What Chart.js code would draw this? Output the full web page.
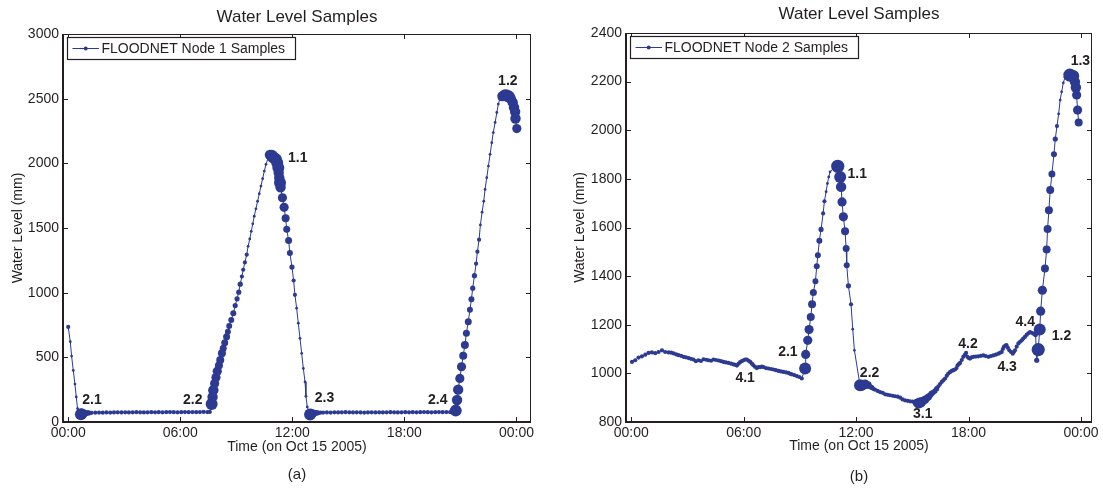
<!DOCTYPE html>
<html>
<head>
<meta charset="utf-8">
<script src="https://cdn.jsdelivr.net/npm/chart.js@4.4.1/dist/chart.umd.min.js"></script>
<style>
  body { margin: 0; background: #fff; }
  canvas { position: absolute; top: 0; }
</style>
</head>
<body>
<canvas id="chartA" width="550" height="489" style="left:0"></canvas>
<canvas id="chartB" width="550" height="489" style="left:553px"></canvas>
<script>
// ---- data (hours after midnight, water level in mm, sample weight 0..9) ----
const tickHours = [0, 6, 12, 18, 24];
const tickLabels = ['00:00', '06:00', '12:00', '18:00', '00:00'];

const node1Hours = [
  0.00, 0.11, 0.18, 0.27, 0.36, 0.43, 0.50,
  0.68, 0.74, 0.80, 0.88, 0.98, 1.10, 1.25,
  1.45, 1.65, 1.85, 2.05, 2.25, 2.45, 2.65, 2.85, 3.05, 3.25, 3.45, 3.65, 3.85, 4.05, 4.25, 4.45,
  4.65, 4.85, 5.05, 5.25, 5.45, 5.65, 5.85, 6.05, 6.25, 6.45, 6.65, 6.85, 7.05, 7.25, 7.45, 7.58,
  7.68, 7.73, 7.77, 7.84, 7.91, 7.98, 8.07, 8.14, 8.23, 8.30, 8.38, 8.48, 8.55, 8.62, 8.73, 8.84,
  8.94, 9.04, 9.13, 9.21, 9.30, 9.37, 9.46, 9.56, 9.63, 9.72, 9.80, 9.88, 9.96, 10.05, 10.14, 10.23,
  10.32, 10.41, 10.50, 10.59, 10.71,
  10.80, 10.90, 10.98, 11.12, 11.19, 11.25, 11.27, 11.30, 11.34, 11.37, 11.47, 11.56, 11.64, 11.70,
  11.80, 11.87, 11.98, 12.07, 12.14, 12.23, 12.32, 12.41, 12.50, 12.59, 12.68, 12.73, 12.80,
  12.95, 13.00, 13.06, 13.14, 13.24, 13.36, 13.50,
  13.65, 13.85, 14.05, 14.25, 14.45, 14.65, 14.85, 15.05, 15.25, 15.45, 15.65, 15.85, 16.05, 16.25,
  16.45, 16.65, 16.85, 17.05, 17.25, 17.45, 17.65, 17.85, 18.05, 18.25, 18.45, 18.65, 18.85, 19.05,
  19.25, 19.45, 19.65, 19.85, 20.05, 20.25, 20.45, 20.62,
  20.75, 20.82, 20.88, 20.97, 21.06, 21.15, 21.24, 21.32, 21.42, 21.51, 21.59, 21.66, 21.75, 21.84,
  21.91, 22.00, 22.07, 22.16, 22.25, 22.32, 22.41, 22.50, 22.59, 22.68, 22.76, 22.86, 22.95, 23.03, 23.12,
  23.25, 23.39, 23.50, 23.60, 23.70, 23.80, 23.87, 23.93, 23.95, 24.02
];
const node1Level = [
  735, 621, 510, 399, 293, 194, 104,
  60, 64, 66, 68, 69, 70, 71,
  72, 73, 72, 74, 73, 74, 75, 74, 75, 74, 75, 76, 75, 74, 75, 76,
  75, 76, 75, 76, 77, 76, 75, 76, 77, 76, 77, 76, 77, 78, 77, 78,
  140, 194, 246, 298, 344, 393, 437, 479, 531, 570, 613, 660, 698, 743, 789, 841,
  900, 952, 1004, 1066, 1125, 1177, 1234, 1294, 1358, 1415, 1474, 1532, 1591, 1648, 1707, 1765,
  1824, 1881, 1940, 1992, 2044,
  2065, 2058, 2045, 2031, 2005, 1966, 1928, 1889, 1850, 1815, 1734, 1660, 1575, 1490,
  1404, 1307, 1198, 1094, 983, 880, 764, 647, 531, 414, 310, 199, 116,
  58, 63, 66, 68, 70, 71, 72,
  73, 74, 73, 75, 74, 75, 76, 75, 74, 75, 74, 73, 74, 75,
  74, 75, 74, 75, 76, 75, 74, 75, 76, 75, 76, 75, 76, 77,
  76, 75, 76, 77, 76, 77, 76, 77,
  88, 170, 250, 337, 427, 512, 595, 686, 776, 867, 950, 1035, 1131, 1224,
  1317, 1410, 1524, 1622, 1707, 1798, 1889, 1979, 2070, 2160, 2238, 2316, 2393, 2458, 2502,
  2520, 2527, 2525, 2515, 2500, 2471, 2432, 2398, 2347, 2269
];
const node1Weight = [
  1, 0, 0, 0, 0, 0, 0,
  8, 7, 5, 4, 3, 2, 1,
  1, 1, 1, 1, 1, 1, 1, 1, 1, 1, 1, 1, 1, 1, 1, 1,
  1, 1, 1, 1, 1, 1, 1, 1, 1, 1, 1, 1, 1, 1, 1, 1,
  8, 7, 7, 6, 6, 6, 5, 5, 5, 4, 4, 4, 3, 3, 3, 3,
  2, 2, 2, 2, 1, 1, 1, 1, 0, 0, 0, 0, 0, 0, 0, 0,
  0, 0, 0, 0, 0,
  7, 8, 8, 8, 8, 8, 7, 7, 8, 7, 6, 6, 5, 4,
  4, 3, 2, 1, 1, 0, 0, 0, 0, 0, 0, 0, 0,
  8, 7, 5, 4, 3, 2, 1,
  1, 1, 1, 1, 1, 1, 1, 1, 1, 1, 1, 1, 1, 1,
  1, 1, 1, 1, 1, 1, 1, 1, 1, 1, 1, 1, 1, 1,
  1, 1, 1, 1, 1, 1, 1, 1,
  8, 7, 7, 6, 6, 5, 5, 4, 4, 3, 3, 2, 2, 1,
  1, 1, 0, 0, 0, 0, 0, 0, 0, 0, 0, 0, 0, 0, 1,
  7, 8, 8, 8, 7, 7, 7, 7, 7, 6
];
const node1MarkText = ['2.1', '2.2', '2.3', '2.4', '1.1', '1.2'];
const node1MarkHour = [1.27, 6.67, 13.72, 19.79, 12.29, 23.54];
const node1MarkLevel = [168, 168, 182, 168, 2044, 2638];

const node2Hours = [
  0.04, 0.21, 0.39, 0.57, 0.75, 0.92, 1.10, 1.28, 1.46, 1.64,
  1.81, 1.99, 2.13, 2.26, 2.40, 2.52, 2.66, 2.79, 2.92, 3.06,
  3.19, 3.32, 3.45, 3.59, 3.72, 3.86, 4.00, 4.12, 4.26, 4.39,
  4.52, 4.66, 4.79, 4.92, 5.05, 5.19, 5.33, 5.46, 5.55, 5.64,
  5.73, 5.81, 5.90, 5.99, 6.08, 6.17, 6.26, 6.35, 6.44, 6.52,
  6.61, 6.70, 6.79, 6.88, 6.97, 7.06, 7.19, 7.32, 7.46, 7.59,
  7.72, 7.86, 7.99, 8.12, 8.26, 8.39, 8.48, 8.57, 8.70, 8.84,
  8.97, 9.10,
  9.28, 9.31, 9.42, 9.49, 9.58, 9.65, 9.72, 9.83, 9.90, 9.96,
  10.04, 10.13, 10.24, 10.31, 10.40, 10.47, 10.54, 10.61, 10.80,
  11.02, 11.15, 11.20, 11.25, 11.32, 11.41, 11.47, 11.50, 11.59, 11.73, 11.82, 11.91,
  12.21, 12.30, 12.40, 12.48, 12.57, 12.66, 12.75, 12.84, 12.92, 13.01,
  13.15, 13.28, 13.42, 13.55, 13.68, 13.81, 13.95, 14.08, 14.22, 14.35,
  14.48, 14.61, 14.75, 14.88, 15.01, 15.15, 15.25, 15.33, 15.42, 15.50,
  15.59, 15.68, 15.77, 15.86, 15.95, 16.03, 16.12, 16.21, 16.30, 16.39,
  16.48, 16.57, 16.66, 16.75, 16.84, 16.92, 17.01, 17.10, 17.19, 17.28,
  17.36, 17.42, 17.48, 17.55, 17.64, 17.72, 17.80, 17.87, 17.94, 18.01,
  18.08, 18.17, 18.26, 18.39, 18.52, 18.66, 18.79, 18.92, 19.06, 19.19,
  19.32, 19.46, 19.59, 19.70, 19.77, 19.83, 19.89, 19.96, 20.03, 20.10,
  20.18, 20.27, 20.36, 20.42, 20.48, 20.57, 20.66, 20.75, 20.84, 20.92,
  21.01, 21.10, 21.19, 21.28, 21.37, 21.46, 21.52, 21.58,
  21.64, 21.72, 21.80, 21.85, 21.94, 22.08, 22.17, 22.22, 22.29, 22.36,
  22.45, 22.56, 22.63, 22.72, 22.81, 22.89, 22.97, 23.06, 23.15,
  23.41, 23.59, 23.68, 23.73, 23.77, 23.82, 23.88
];
const node2Level = [
  1047, 1054, 1065, 1070, 1077, 1084, 1086, 1083, 1088, 1095,
  1088, 1086, 1085, 1082, 1078, 1075, 1072, 1068, 1066, 1063,
  1060, 1057, 1050, 1054, 1051, 1058, 1056, 1054, 1052, 1057,
  1055, 1053, 1050, 1047, 1045, 1043, 1040, 1037, 1035, 1032,
  1040, 1046, 1050, 1054, 1057, 1057, 1052, 1047, 1040, 1033,
  1027, 1022, 1026, 1026, 1028, 1026, 1022, 1020, 1018, 1016,
  1013, 1010, 1008, 1006, 1004, 1002, 998, 996, 993, 989,
  985, 979,
  1020, 1078, 1136, 1180, 1232, 1284, 1333, 1379, 1441, 1486,
  1546, 1592, 1658, 1708, 1747, 1781, 1808, 1829, 1843,
  1852, 1808, 1767, 1705, 1644, 1585, 1514, 1445, 1360, 1284, 1182, 1095,
  951, 950, 952, 958, 950, 955, 946, 942, 936, 933,
  928, 923, 920, 914, 912, 910, 908, 906, 904, 900,
  893, 889, 887, 885, 884, 882, 878, 877, 880, 882,
  887, 892, 898, 903, 910, 917, 922, 928, 937, 947,
  956, 965, 972, 979, 990, 999, 1005, 1010, 1013, 1016,
  1022, 1033, 1038, 1043, 1055, 1068, 1076, 1084, 1068, 1063,
  1061, 1066, 1068, 1069, 1070, 1072, 1074, 1071, 1068, 1071,
  1074, 1077, 1081, 1085, 1088, 1100, 1109, 1114, 1116, 1105,
  1095, 1088, 1081, 1088, 1095, 1110, 1123, 1130, 1136, 1143,
  1150, 1158, 1165, 1170, 1167, 1164, 1160, 1157,
  1054, 1098, 1180, 1256, 1342, 1431, 1510, 1594, 1671, 1754,
  1820, 1901, 1964, 2017, 2067, 2124, 2158, 2195, 2218,
  2227, 2223, 2199, 2176, 2145, 2083, 2032
];
const node2Weight = [
  1, 1, 1, 1, 1, 1, 1, 1, 1, 1,
  1, 1, 1, 1, 1, 1, 1, 1, 1, 1,
  1, 1, 1, 1, 1, 1, 1, 1, 1, 1,
  1, 1, 1, 1, 1, 1, 1, 1, 1, 1,
  1, 1, 1, 1, 1, 1, 1, 1, 1, 1,
  1, 1, 1, 1, 1, 1, 1, 1, 1, 1,
  1, 1, 1, 1, 1, 1, 1, 1, 1, 1,
  1, 1,
  8, 6, 6, 6, 5, 5, 4, 3, 3, 3,
  3, 2, 1, 1, 0, 0, 0, 0, 0,
  9, 8, 7, 6, 6, 5, 4, 3, 2, 1, 0, 0,
  8, 7, 6, 5, 4, 3, 2, 2, 1, 1,
  1, 1, 1, 1, 1, 1, 1, 1, 1, 1,
  1, 1, 1, 1, 1, 2, 5, 7, 7, 6,
  5, 5, 4, 4, 3, 3, 2, 2, 2, 1,
  1, 1, 1, 1, 1, 1, 1, 1, 1, 1,
  1, 1, 1, 1, 1, 1, 1, 1, 1, 1,
  1, 1, 1, 1, 1, 1, 1, 1, 1, 1,
  1, 1, 1, 1, 1, 1, 1, 1, 1, 1,
  1, 1, 1, 1, 1, 1, 1, 1, 1, 1,
  1, 1, 1, 1, 1, 1, 1, 1,
  2, 9, 8, 6, 6, 5, 5, 5, 5, 5,
  4, 3, 2, 1, 0, 0, 0, 0, 0,
  9, 8, 7, 7, 6, 6, 5
];
const node2MarkText = ['1.1', '1.3', '2.1', '4.1', '2.2', '3.1', '4.2', '4.3', '4.4', '1.2'];
const node2MarkHour = [12.06, 23.97, 8.36, 6.08, 12.72, 15.56, 17.97, 20.06, 21.03, 22.96];
const node2MarkLevel = [1820, 2286, 1088, 979, 1002, 832, 1120, 1024, 1212, 1153];

// ---- styling ----
const INK = '#231f20';
const BLUE = '#2c3a92';
const FONT = '"Liberation Sans", Arial, Helvetica, sans-serif';
const RADIUS = [1.4, 2.1, 2.6, 3, 3.5, 4, 4.6, 5.2, 6, 6.6];

// box round the plot with inward ticks, like matlab
const frame = {
  id: 'frame',
  afterDraw(chart) {
    const { ctx, chartArea: a, scales: { x, y } } = chart;
    ctx.save();
    ctx.strokeStyle = INK;
    ctx.lineWidth = 1;
    ctx.beginPath();
    ctx.moveTo(a.left, a.top + 0.5); ctx.lineTo(a.right, a.top + 0.5);
    ctx.moveTo(a.right - 0.5, a.top); ctx.lineTo(a.right - 0.5, a.bottom);
    x.ticks.forEach(t => {
      const px = Math.round(x.getPixelForValue(t.value)) + 0.5;
      ctx.moveTo(px, a.bottom); ctx.lineTo(px, a.bottom - 5);
      ctx.moveTo(px, a.top); ctx.lineTo(px, a.top + 5);
    });
    y.ticks.forEach(t => {
      const py = Math.round(y.getPixelForValue(t.value)) + 0.5;
      ctx.moveTo(a.left, py); ctx.lineTo(a.left + 5, py);
      ctx.moveTo(a.right, py); ctx.lineTo(a.right - 5, py);
    });
    ctx.stroke();
    ctx.lineWidth = 2;
    ctx.beginPath();
    ctx.moveTo(a.left, a.top);
    ctx.lineTo(a.left, a.bottom);
    ctx.lineTo(a.right, a.bottom);
    ctx.stroke();
    ctx.restore();
  }
};

// legend box in the top left corner
const legendBox = {
  id: 'legendBox',
  afterDraw(chart) {
    const { ctx, chartArea: a } = chart;
    const text = chart.data.datasets[0].label;
    ctx.save();
    ctx.font = '14px ' + FONT;
    const x0 = Math.round(a.left + 4), y0 = Math.round(a.top + 3), h = 22;
    const w = Math.round(34.5 + ctx.measureText(text).width + 10);
    ctx.fillStyle = '#fff';
    ctx.fillRect(x0, y0, w, h);
    ctx.strokeStyle = INK;
    ctx.lineWidth = 1.2;
    ctx.strokeRect(x0 + 0.5, y0 + 0.5, w, h);
    const cy = y0 + h / 2 + 0.5;
    ctx.strokeStyle = BLUE;
    ctx.lineWidth = 1;
    ctx.beginPath();
    ctx.moveTo(x0 + 5.5, cy); ctx.lineTo(x0 + 32, cy);
    ctx.stroke();
    ctx.fillStyle = BLUE;
    ctx.beginPath();
    ctx.arc(x0 + 18.7, cy, 2, 0, Math.PI * 2);
    ctx.fill();
    ctx.fillStyle = INK;
    ctx.textBaseline = 'middle';
    ctx.fillText(text, x0 + 34.5, cy + 0.5);
    ctx.restore();
  }
};

// bold event labels next to the samples
const marks = {
  id: 'marks',
  afterDatasetsDraw(chart, args, opts) {
    const { ctx, scales: { x, y } } = chart;
    ctx.save();
    ctx.font = 'bold 14px ' + FONT;
    ctx.fillStyle = INK;
    ctx.textAlign = 'center';
    ctx.textBaseline = 'middle';
    opts.text.forEach((t, i) => {
      ctx.fillText(t, x.getPixelForValue(opts.hour[i]), y.getPixelForValue(opts.level[i]));
    });
    ctx.restore();
  }
};

function makePanel(id, p) {
  const axisFont = { family: FONT, size: 14 };
  return new Chart(document.getElementById(id), {
    type: 'scatter',
    data: {
      datasets: [{
        label: p.legend,
        data: p.hours.map((h, i) => ({ x: h, y: p.levels[i] })),
        showLine: true,
        borderColor: BLUE,
        borderWidth: 1,
        backgroundColor: BLUE,
        pointBackgroundColor: BLUE,
        pointBorderWidth: 0,
        pointRadius: ctx => RADIUS[p.weights[ctx.dataIndex]],
        pointHoverRadius: ctx => RADIUS[p.weights[ctx.dataIndex]],
        clip: false
      }]
    },
    options: {
      responsive: false,
      animation: false,
      devicePixelRatio: 1,
      layout: { padding: { left: p.padLeft, right: p.padRight, top: 0, bottom: 0 } },
      plugins: {
        legend: { display: false },
        tooltip: { enabled: false },
        title: {
          display: true, text: 'Water Level Samples', color: INK, fullSize: false,
          font: { family: FONT, size: 17, weight: 'normal' },
          padding: { top: p.titleTop, bottom: p.titleBottom }
        },
        subtitle: {
          display: true, text: p.tag, position: 'bottom', color: INK, fullSize: false,
          font: { family: FONT, size: 15, weight: 'normal' },
          padding: { top: p.tagTop, bottom: p.tagBottom }
        },
        marks: { text: p.markText, hour: p.markHour, level: p.markLevel }
      },
      scales: {
        x: {
          type: 'linear',
          min: -0.28,
          max: p.xMax,
          afterBuildTicks: ax => { ax.ticks = tickHours.map(v => ({ value: v })); },
          afterFit: ax => { ax.height = 34; },
          grid: { display: false, drawTicks: false },
          border: { display: false },
          ticks: {
            color: INK, font: axisFont, padding: 3, maxRotation: 0, autoSkip: false,
            callback: (v, i) => tickLabels[i]
          },
          title: {
            display: true, text: 'Time (on Oct 15 2005)', color: INK, font: axisFont,
            padding: { top: 0, bottom: p.xTitleBottom }
          }
        },
        y: {
          min: p.yMin,
          max: p.yMax,
          afterFit: ax => { ax.width = p.yAxisWidth; },
          grid: { display: false, drawTicks: false },
          border: { display: false },
          ticks: { stepSize: p.yStep, color: INK, font: axisFont, padding: 4, callback: v => String(v) },
          title: {
            display: true, text: 'Water Level (mm)', color: INK, font: axisFont,
            padding: { top: 0, bottom: 0 }
          }
        }
      }
    },
    plugins: [marks, frame, legendBox]
  });
}

makePanel('chartA', {
  legend: 'FLOODNET Node 1 Samples', tag: '(a)',
  hours: node1Hours, levels: node1Level, weights: node1Weight,
  markText: node1MarkText, markHour: node1MarkHour, markLevel: node1MarkLevel,
  xMax: 24.78, yMin: 0, yMax: 3000, yStep: 500,
  padLeft: 10, padRight: 19, yAxisWidth: 53,
  titleTop: 7, titleBottom: 6.6, tagTop: 10, tagBottom: 5, xTitleBottom: 0
});

makePanel('chartB', {
  legend: 'FLOODNET Node 2 Samples', tag: '(b)',
  hours: node2Hours, levels: node2Level, weights: node2Weight,
  markText: node2MarkText, markHour: node2MarkHour, markLevel: node2MarkLevel,
  xMax: 24.59, yMin: 800, yMax: 2400, yStep: 200,
  padLeft: 19, padRight: 11, yAxisWidth: 54,
  titleTop: 4.3, titleBottom: 8.3, tagTop: 11.7, tagBottom: 3.3, xTitleBottom: 1
});
</script>
</body>
</html>
